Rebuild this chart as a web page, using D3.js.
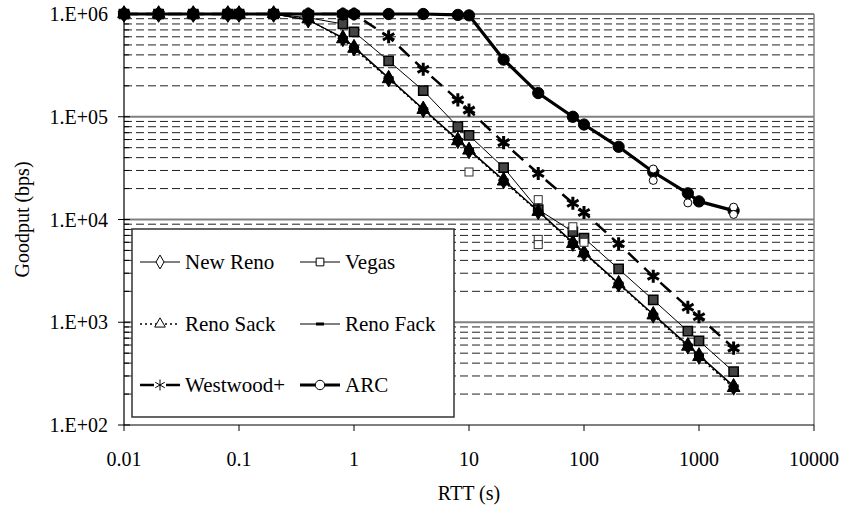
<!DOCTYPE html>
<html>
<head>
<meta charset="utf-8">
<script src="https://cdn.jsdelivr.net/npm/d3@7"></script>
<style>
  body { margin: 0; background: #fff; }
  svg text { font-family: "Liberation Serif", "Times New Roman", serif; fill: #000; }
</style>
</head>
<body>
<svg width="843" height="508"></svg>
<script>
// RTT values (s)
const rtt = [0.01, 0.02, 0.04, 0.08, 0.1, 0.2, 0.4, 0.8, 1, 2, 4, 8, 10, 20, 40, 80, 100, 200, 400, 800, 1000, 2000];

// goodput (bps) per protocol
const newReno  = [1e6, 1e6, 1e6, 1e6, 1e6, 1e6, 8.8e5, 5.8e5, 4.7e5, 2.35e5, 1.18e5, 5.9e4, 4.7e4, 2.4e4, 1.2e4, 5.9e3, 4.7e3, 2.37e3, 1.18e3, 590, 470, 235];
const vegas    = [1e6, 1e6, 1e6, 1e6, 1e6, 1e6, 9.2e5, 8e5, 6.7e5, 3.5e5, 1.8e5, 8e4, 6.6e4, 3.2e4, 1.25e4, 7.6e3, 6.6e3, 3.3e3, 1.65e3, 820, 660, 330];
const renoSack = [1e6, 1e6, 1e6, 1e6, 1e6, 1e6, 8.9e5, 5.7e5, 4.6e5, 2.33e5, 1.17e5, 5.8e4, 4.7e4, 2.35e4, 1.19e4, 5.8e3, 4.7e3, 2.35e3, 1.17e3, 580, 460, 230];
const renoFack = [1e6, 1e6, 1e6, 1e6, 1e6, 1e6, 8.7e5, 5.9e5, 4.8e5, 2.4e5, 1.19e5, 6e4, 4.8e4, 2.42e4, 1.21e4, 6e3, 4.8e3, 2.4e3, 1.2e3, 600, 480, 240];
const westwood = [1e6, 1e6, 1e6, 1e6, 1e6, 1e6, 1e6, 1e6, 1e6, 6e5, 2.9e5, 1.46e5, 1.16e5, 5.6e4, 2.8e4, 1.44e4, 1.17e4, 5.8e3, 2.8e3, 1.4e3, 1.13e3, 560];
const arc      = [1e6, 1e6, 1e6, 1e6, 1e6, 1e6, 1e6, 1e6, 1e6, 1e6, 1e6, 9.8e5, 9.7e5, 3.6e5, 1.7e5, 1e5, 8.4e4, 5.1e4, 2.9e4, 1.8e4, 1.5e4, 1.22e4];

// single runs that fall off the mean curves (hollow markers)
const vegasRunsX = [10, 40, 40, 40, 80, 100];
const vegasRunsY = [2.9e4, 1.56e4, 6.4e3, 5.7e3, 8.5e3, 6e3];
const arcRunsX = [400, 400, 800, 2000, 2000];
const arcRunsY = [2.4e4, 3.1e4, 1.45e4, 1.32e4, 1.12e4];

const xTicks = [0.01, 0.1, 1, 10, 100, 1000, 10000];
const xTickLabels = ["0.01", "0.1", "1", "10", "100", "1000", "10000"];
const yTicks = [1e2, 1e3, 1e4, 1e5, 1e6];
const yTickLabels = ["1.E+02", "1.E+03", "1.E+04", "1.E+05", "1.E+06"];

const svg = d3.select("svg");
const pLeft = 124, pRight = 814, pTop = 14, pBottom = 425;
const fs = 20;

const x = d3.scaleLog().domain([0.01, 10000]).range([pLeft, pRight]);
const y = d3.scaleLog().domain([100, 1e6]).range([pBottom, pTop]);

// minor gridlines (dashed)
const minors = [];
for (let e = 2; e < 6; e++) for (let m = 2; m <= 9; m++) minors.push(m * Math.pow(10, e));
svg.append("g").selectAll("line").data(minors).join("line")
  .attr("x1", pLeft).attr("x2", pRight)
  .attr("y1", d => y(d)).attr("y2", d => y(d))
  .attr("stroke", "#222").attr("stroke-width", 1).attr("stroke-dasharray", "8,4");

// major gridlines
svg.append("g").selectAll("line").data(yTicks.slice(1)).join("line")
  .attr("x1", pLeft).attr("x2", pRight)
  .attr("y1", d => y(d)).attr("y2", d => y(d))
  .attr("stroke", "#808080").attr("stroke-width", 2);

// right border of plot area
svg.append("line").attr("x1", pRight).attr("x2", pRight).attr("y1", pTop).attr("y2", pBottom)
  .attr("stroke", "#808080").attr("stroke-width", 1.5);

// axes
const yAxis = svg.append("g");
yAxis.append("line").attr("x1", pLeft).attr("x2", pLeft).attr("y1", pTop).attr("y2", pBottom)
  .attr("stroke", "#000").attr("stroke-width", 1.2);
yAxis.selectAll(".maj").data(yTicks).join("line").attr("class", "maj")
  .attr("x1", pLeft - 6).attr("x2", pLeft + 6)
  .attr("y1", d => y(d)).attr("y2", d => y(d)).attr("stroke", "#000");
yAxis.selectAll(".min").data(minors).join("line").attr("class", "min")
  .attr("x1", pLeft).attr("x2", pLeft + 5)
  .attr("y1", d => y(d)).attr("y2", d => y(d)).attr("stroke", "#000");
yAxis.selectAll("text").data(yTicks).join("text")
  .attr("x", pLeft - 16).attr("y", d => y(d) + 7)
  .attr("text-anchor", "end").attr("font-size", fs)
  .text((d, i) => yTickLabels[i]);

const xAxis = svg.append("g");
xAxis.append("line").attr("x1", pLeft).attr("x2", pRight).attr("y1", pBottom).attr("y2", pBottom)
  .attr("stroke", "#000").attr("stroke-width", 1.2);
xAxis.selectAll("line.t").data(xTicks).join("line").attr("class", "t")
  .attr("x1", d => x(d)).attr("x2", d => x(d))
  .attr("y1", pBottom).attr("y2", pBottom + 6).attr("stroke", "#000");
xAxis.selectAll("text").data(xTicks).join("text")
  .attr("x", d => x(d)).attr("y", 466)
  .attr("text-anchor", "middle").attr("font-size", fs)
  .text((d, i) => xTickLabels[i]);

svg.append("text").attr("x", (pLeft + pRight) / 2).attr("y", 500)
  .attr("text-anchor", "middle").attr("font-size", fs).text("RTT (s)");
svg.append("text").attr("transform", `translate(29, ${(pTop + pBottom) / 2}) rotate(-90)`)
  .attr("text-anchor", "middle").attr("font-size", fs).text("Goodput (bps)");

// series definitions
const series = [
  { name: "New Reno",   values: newReno,  width: 1,   dash: null,   legDash: null,  sym: d3.symbolDiamond,  size: 80,  fill: "#000", sw: 1 },
  { name: "Vegas",      values: vegas,    width: 1,   dash: null,   legDash: null,  sym: d3.symbolSquare,   size: 85,  fill: "#444", sw: 1.5 },
  { name: "Reno Sack",  values: renoSack, width: 1.5, dash: "2,3",  legDash: "2,3", sym: d3.symbolTriangle, size: 70,  fill: "#000", sw: 1 },
  { name: "Reno Fack",  values: renoFack, width: 1.2, dash: null,   legDash: null,  sym: "dash",            size: 0,   fill: "#000", sw: 3 },
  { name: "Westwood+",  values: westwood, width: 2.5, dash: "14,8", legDash: null,  sym: d3.symbolAsterisk, size: 120, fill: "none", sw: 3 },
  { name: "ARC",        values: arc,      width: 3.2, dash: null,   legDash: null,  sym: d3.symbolCircle,   size: 100, fill: "#000", sw: 1 }
];

const line = d3.line().x(d => x(d[0])).y(d => y(d[1]));

function marker(g, s) {
  if (s.sym === "dash") {
    g.append("line").attr("x1", -5).attr("x2", 5).attr("y1", 0).attr("y2", 0)
      .attr("stroke", "#000").attr("stroke-width", s.sw);
  } else {
    g.append("path").attr("d", d3.symbol(s.sym, s.size)())
      .attr("fill", s.fill).attr("stroke", "#000").attr("stroke-width", s.sw);
  }
}

const plot = svg.append("g");
series.forEach(s => {
  const pts = rtt.map((r, i) => [r, s.values[i]]);
  plot.append("path").datum(pts).attr("d", line)
    .attr("fill", "none").attr("stroke", "#000")
    .attr("stroke-width", s.width).attr("stroke-dasharray", s.dash);
  pts.forEach(p => {
    const g = plot.append("g").attr("transform", `translate(${x(p[0])},${y(p[1])})`);
    marker(g, s);
  });
});

// hollow markers for individual runs
vegasRunsX.forEach((r, i) => {
  plot.append("rect").attr("x", x(r) - 4).attr("y", y(vegasRunsY[i]) - 4)
    .attr("width", 8).attr("height", 8).attr("fill", "#fff").attr("stroke", "#333");
});
arcRunsX.forEach((r, i) => {
  plot.append("circle").attr("cx", x(r)).attr("cy", y(arcRunsY[i])).attr("r", 4)
    .attr("fill", "#fff").attr("stroke", "#000");
});

// legend
const lg = svg.append("g");
lg.append("rect").attr("x", 132).attr("y", 229).attr("width", 322).attr("height", 188)
  .attr("fill", "#fff").attr("stroke", "#333").attr("stroke-width", 1.5);
const colX = [140, 300], rowY = [262, 324, 385];
series.forEach((s, i) => {
  const cx = colX[i % 2], cy = rowY[Math.floor(i / 2)];
  lg.append("line").attr("x1", cx).attr("x2", cx + 40).attr("y1", cy).attr("y2", cy)
    .attr("stroke", "#000").attr("stroke-width", s.width)
    .attr("stroke-dasharray", s.legDash);
  const g = lg.append("g").attr("transform", `translate(${cx + 20},${cy})`);
  if (s.sym === "dash") {
    g.append("line").attr("x1", -4).attr("x2", 4).attr("y1", 0).attr("y2", 0)
      .attr("stroke", "#000").attr("stroke-width", 3);
  } else {
    if (s.fill !== "none") {
      g.append("path").attr("d", d3.symbol(s.sym, s.size * 0.7)())
        .attr("fill", "#fff").attr("stroke", "#000").attr("stroke-width", 1);
    } else {
      g.append("rect").attr("x", -6).attr("y", -6).attr("width", 12).attr("height", 12).attr("fill", "#fff");
      g.append("path").attr("d", d3.symbol(s.sym, s.size * 0.7)())
        .attr("fill", "none").attr("stroke", "#000").attr("stroke-width", 1);
    }
  }
  lg.append("text").attr("x", cx + 45).attr("y", cy + 7).attr("font-size", 21).text(s.name);
});
</script>
</body>
</html>
